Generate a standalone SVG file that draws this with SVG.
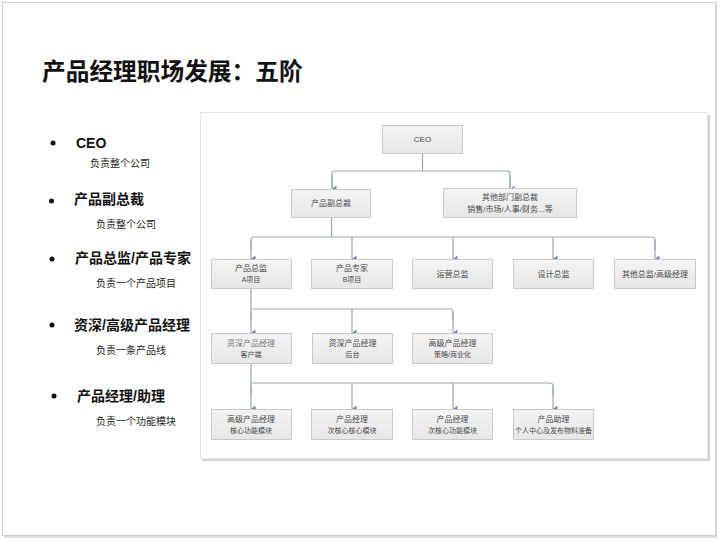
<svg xmlns="http://www.w3.org/2000/svg" width="720" height="541" viewBox="0 0 720 541">
<defs>
<linearGradient id="boxg" x1="0" y1="0" x2="0" y2="1">
<stop offset="0" stop-color="#f4f4f4"/>
<stop offset="1" stop-color="#e6e6e6"/>
</linearGradient>
<marker id="arr" viewBox="0 0 8 8" refX="4" refY="7.5" markerWidth="8" markerHeight="8" markerUnits="userSpaceOnUse" orient="auto-start-reverse">
<path d="M0.5,3 L7.5,3 L4,7.5 z" fill="#6f84a8"/>
</marker>
<style>
.cjk{font-family:"Liberation Sans","Noto Sans CJK SC",sans-serif}
.title{font-size:23.7px;font-weight:bold;fill:#111}
.head{font-size:14px;font-weight:bold;fill:#111}
.sub{font-size:10px;fill:#222}
.bullet{fill:#111}
.box{fill:url(#boxg);stroke:#c9c9c9;stroke-width:1}
.nt{font-size:8px;fill:#4a4a4a;text-anchor:middle}
.nt2{font-size:7px;fill:#4a4a4a;text-anchor:middle}
.con{fill:none;stroke:#9aa6b8;stroke-width:1.2}
.drop{fill:none;stroke:#9aa6b8;stroke-width:1.2;marker-end:url(#arr)}
</style>
</defs>
<rect x="0" y="0" width="720" height="541" fill="#ffffff"/>
<rect x="4" y="4" width="713" height="534" fill="#dddddd"/>
<rect x="2.5" y="2.5" width="713" height="533" fill="#ffffff" stroke="#cfcfcf" stroke-width="1"/>

<text class="cjk title" x="42" y="80">产品经理职场发展：五阶</text>

<g id="list">
<circle class="bullet" cx="53" cy="143" r="2.5"/>
<text class="cjk head" x="76" y="148">CEO</text>
<text class="cjk sub" x="90" y="167">负责整个公司</text>
<circle class="bullet" cx="51.5" cy="201" r="2.5"/>
<text class="cjk head" x="74" y="204">产品副总裁</text>
<text class="cjk sub" x="96" y="228">负责整个公司</text>
<circle class="bullet" cx="52" cy="259" r="2.5"/>
<text class="cjk head" x="75" y="263">产品总监/产品专家</text>
<text class="cjk sub" x="96" y="287">负责一个产品项目</text>
<circle class="bullet" cx="52" cy="325" r="2.5"/>
<text class="cjk head" x="74" y="330">资深/高级产品经理</text>
<text class="cjk sub" x="96" y="354">负责一条产品线</text>
<circle class="bullet" cx="54" cy="396" r="2.5"/>
<text class="cjk head" x="77" y="401">产品经理/助理</text>
<text class="cjk sub" x="96" y="425">负责一个功能模块</text>
</g>

<g id="panel">
<rect x="202" y="115" width="508" height="346" fill="#d2d2d2"/>
<rect x="200.5" y="112.5" width="507" height="346" fill="#ffffff" stroke="#e2e2e2" stroke-width="1"/>
</g>

<g id="connectors">
<path class="con" d="M422.5,153 V171"/>
<path class="con" d="M332,188 V174 Q332,171 335,171 H507 Q510,171 510,174 V188"/>
<path class="drop" d="M332,175 V189"/>
<path class="drop" d="M510,175 V189"/>

<path class="con" d="M331.5,217 V237"/>
<path class="con" d="M251,250 V240 Q251,237 254,237 H652 Q655,237 655,240 V250"/>
<path class="drop" d="M251,240 V259"/>
<path class="drop" d="M352,237 V259"/>
<path class="drop" d="M453,237 V259"/>
<path class="drop" d="M553,237 V259"/>
<path class="drop" d="M655,240 V259"/>

<path class="con" d="M251,288 V320"/>
<path class="con" d="M251,309 H450 Q453,309 453,312 V320"/>
<path class="drop" d="M251,312 V333"/>
<path class="drop" d="M352,309 V333"/>
<path class="drop" d="M453,312 V333"/>

<path class="con" d="M251,363 V395"/>
<path class="con" d="M251,383 H550 Q553,383 553,386 V395"/>
<path class="drop" d="M251,386 V409"/>
<path class="drop" d="M352,383 V409"/>
<path class="drop" d="M453,383 V409"/>
<path class="drop" d="M553,386 V409"/>
</g>

<g id="n-ceo"><rect class="box" x="382.5" y="125.5" width="80" height="28"/><text class="cjk nt" x="422.5" y="142">CEO</text></g>
<g id="n-vp"><rect class="box" x="291.5" y="189.5" width="79" height="28"/><text class="cjk nt" x="331" y="206">产品副总裁</text></g>
<g id="n-othervp"><rect class="box" x="443.5" y="188.5" width="133" height="29"/><text class="cjk nt" x="510" y="200">其他部门副总裁</text><text class="cjk nt" x="510" y="212">销售/市场/人事/财务...等</text></g>

<g id="n-pd"><rect class="box" x="211.5" y="259.5" width="80" height="29"/><text class="cjk nt" x="251" y="271">产品总监</text><text class="cjk nt2" x="251" y="282">A项目</text></g>
<g id="n-pe"><rect class="box" x="311.5" y="259.5" width="81" height="29"/><text class="cjk nt" x="352" y="271">产品专家</text><text class="cjk nt2" x="352" y="282">B项目</text></g>
<g id="n-ops"><rect class="box" x="412.5" y="259.5" width="80" height="29"/><text class="cjk nt" x="452.5" y="277">运营总监</text></g>
<g id="n-design"><rect class="box" x="513.5" y="259.5" width="80" height="29"/><text class="cjk nt" x="553.5" y="277">设计总监</text></g>
<g id="n-otherdir"><rect class="box" x="614.5" y="259.5" width="81" height="29"/><text class="cjk nt" x="655" y="277">其他总监/高级经理</text></g>

<g id="n-spm1"><rect class="box" x="211.5" y="333.5" width="80" height="30"/><text class="cjk nt" x="251" y="346" fill-opacity="0.75">资深产品经理</text><text class="cjk nt2" x="251" y="357">客户端</text></g>
<g id="n-spm2"><rect class="box" x="312.5" y="333.5" width="80" height="30"/><text class="cjk nt" x="352.5" y="346">资深产品经理</text><text class="cjk nt2" x="352.5" y="357">后台</text></g>
<g id="n-spm3"><rect class="box" x="412.5" y="333.5" width="80" height="30"/><text class="cjk nt" x="452.5" y="346">高级产品经理</text><text class="cjk nt2" x="452.5" y="357">策略/商业化</text></g>

<g id="n-pm1"><rect class="box" x="211.5" y="409.5" width="80" height="30"/><text class="cjk nt" x="251" y="422">高级产品经理</text><text class="cjk nt2" x="251" y="433">核心功能模块</text></g>
<g id="n-pm2"><rect class="box" x="311.5" y="409.5" width="81" height="30"/><text class="cjk nt" x="352" y="422">产品经理</text><text class="cjk nt2" x="352" y="433">次核心核心模块</text></g>
<g id="n-pm3"><rect class="box" x="412.5" y="409.5" width="80" height="30"/><text class="cjk nt" x="452.5" y="422">产品经理</text><text class="cjk nt2" x="452.5" y="433">次核心功能模块</text></g>
<g id="n-pa"><rect class="box" x="513.5" y="409.5" width="80" height="30"/><text class="cjk nt" x="553.5" y="422">产品助理</text><text class="cjk nt2" x="553.5" y="433">个人中心及发布物料准备</text></g>
</svg>
